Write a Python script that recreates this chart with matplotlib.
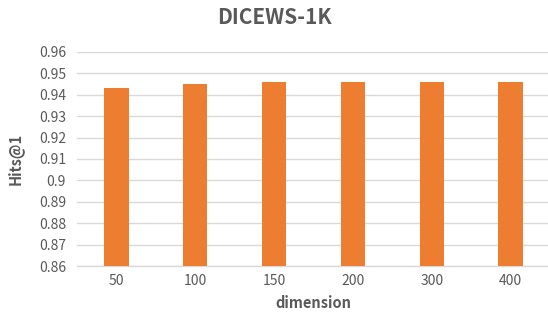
import matplotlib
matplotlib.use('Agg')
import matplotlib.pyplot as plt

plt.rcParams['font.family'] = ['Noto Sans CJK SC', 'DejaVu Sans']

dimensions = ['50', '100', '150', '200', '300', '400']
hits_at_1 = [0.943, 0.945, 0.946, 0.946, 0.946, 0.946]
y_ticks = [0.86, 0.87, 0.88, 0.89, 0.90, 0.91, 0.92, 0.93, 0.94, 0.95, 0.96]
y_tick_labels = ['0.86', '0.87', '0.88', '0.89', '0.9', '0.91', '0.92', '0.93', '0.94', '0.95', '0.96']

TXT = '#595959'

fig = plt.figure(figsize=(5.48, 3.14), dpi=100)
ax = fig.add_axes([77 / 548, 1 - 266 / 314, 473 / 548, (266 - 52) / 314])

x = range(len(dimensions))
ax.bar(x, hits_at_1, width=0.31, color='#ED7D31', zorder=3)

ax.set_xlim(-0.5, len(dimensions) - 0.5)
ax.set_ylim(0.86, 0.96)
ax.set_yticks(y_ticks)
ax.set_yticklabels(y_tick_labels)
ax.set_xticks(list(x))
ax.set_xticklabels(dimensions)
ax.tick_params(axis='both', length=0, labelsize=10, colors=TXT)
ax.tick_params(axis='x', pad=6)
ax.tick_params(axis='y', pad=8)

ax.grid(axis='y', color='#D9D9D9', linewidth=1.0, zorder=0)
for s in ['top', 'right', 'left']:
    ax.spines[s].set_visible(False)
ax.spines['bottom'].set_color('#D9D9D9')
ax.spines['bottom'].set_linewidth(1.0)

ax.set_xlabel('dimension', fontsize=10.5, color=TXT, fontweight='bold', labelpad=5)
ax.set_ylabel('Hits@1', fontsize=10.5, color=TXT, fontweight='bold', labelpad=11)
fig.text(0.5, 1 - 17 / 314, 'DICEWS-1K', ha='center', va='center',
         fontsize=15, fontweight='bold', color=TXT)

fig.savefig('out.png', dpi=100)
